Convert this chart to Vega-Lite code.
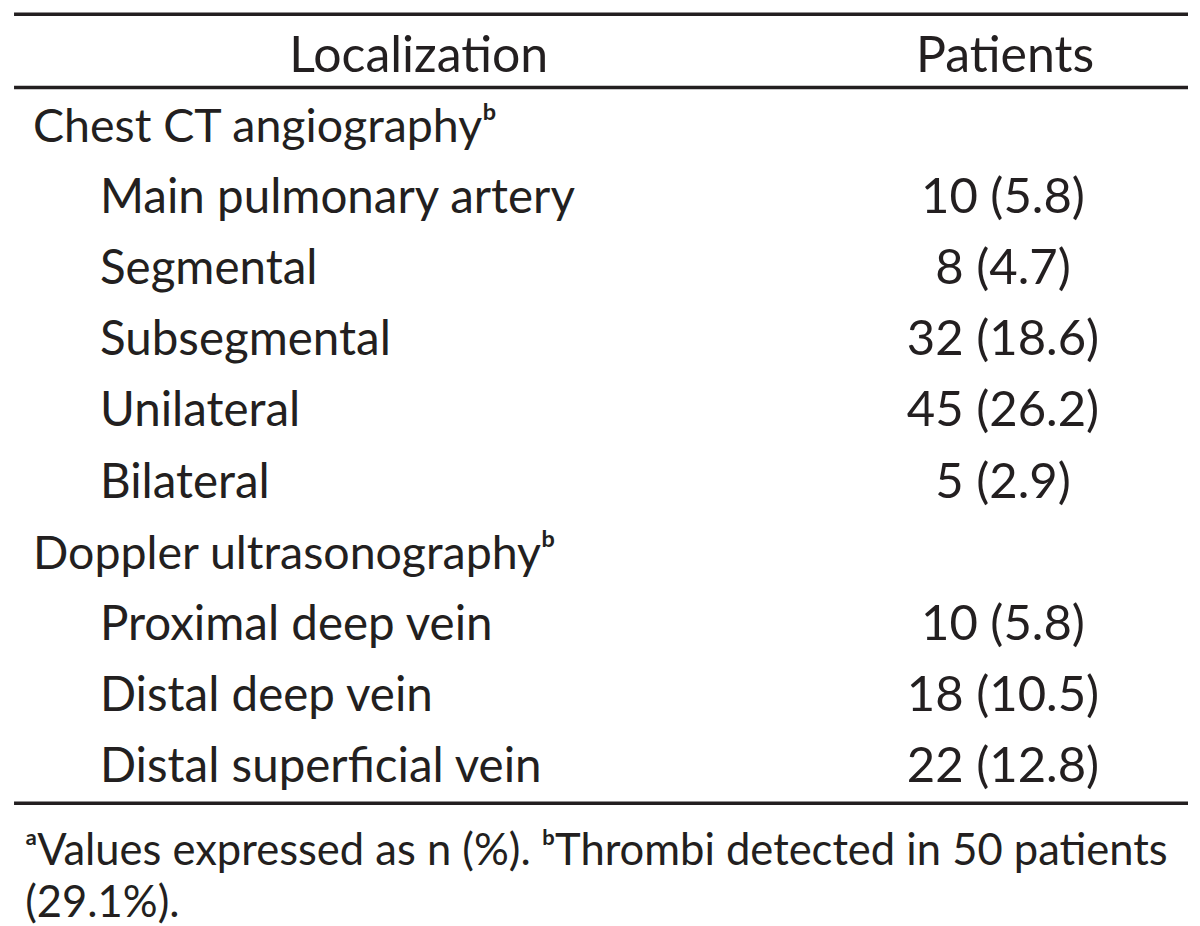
{
  "$schema": "https://vega.github.io/schema/vega-lite/v6.json",
  "width": 1200,
  "height": 926,
  "autosize": {"type": "fit", "contains": "padding"},
  "padding": 0,
  "background": "white",
  "config": {"view": {"stroke": null}},
  "datasets": {
    "rows": [
      {"row": 0, "level": 0, "label": "Chest CT angiographyᵇ", "patients": ""},
      {"row": 1, "level": 1, "label": "Main pulmonary artery", "patients": "10 (5.8)"},
      {"row": 2, "level": 1, "label": "Segmental", "patients": "8 (4.7)"},
      {"row": 3, "level": 1, "label": "Subsegmental", "patients": "32 (18.6)"},
      {"row": 4, "level": 1, "label": "Unilateral", "patients": "45 (26.2)"},
      {"row": 5, "level": 1, "label": "Bilateral", "patients": "5 (2.9)"},
      {"row": 6, "level": 0, "label": "Doppler ultrasonographyᵇ", "patients": ""},
      {"row": 7, "level": 1, "label": "Proximal deep vein", "patients": "10 (5.8)"},
      {"row": 8, "level": 1, "label": "Distal deep vein", "patients": "18 (10.5)"},
      {"row": 9, "level": 1, "label": "Distal superficial vein", "patients": "22 (12.8)"}
    ],
    "header": [
      {"row": -0.99, "col": 0.349, "text": "Localization"},
      {"row": -0.99, "col": 0.8375, "text": "Patients"}
    ],
    "footnote": [
      {"row": 10.17, "text": "ᵃValues expressed as n (%). ᵇThrombi detected in 50 patients"},
      {"row": 10.9, "text": "(29.1%)."}
    ],
    "rules": [
      {"pos": -1.8},
      {"pos": -0.77},
      {"pos": 9.3}
    ]
  },
  "layer": [
    {
      "data": {"name": "rules"},
      "mark": {"type": "rule", "strokeWidth": 3.5, "color": "#231f20"},
      "encoding": {
        "y": {"field": "pos", "type": "quantitative", "scale": {"domain": [-1.9306, 10.9306], "reverse": true}, "axis": null},
        "x": {"datum": 0.0117, "type": "quantitative", "scale": {"domain": [0, 1]}, "axis": null},
        "x2": {"datum": 0.99}
      }
    },
    {
      "data": {"name": "header"},
      "mark": {"type": "text", "align": "center", "baseline": "alphabetic", "font": "Lato", "fontSize": 50, "color": "#231f20"},
      "encoding": {
        "y": {"field": "row", "type": "quantitative", "axis": null},
        "x": {"field": "col", "type": "quantitative", "axis": null},
        "text": {"field": "text"}
      }
    },
    {
      "data": {"name": "rows"},
      "transform": [{"filter": "datum.level == 0"}],
      "mark": {"type": "text", "align": "left", "baseline": "alphabetic", "font": "Lato", "fontSize": 46.5, "color": "#231f20"},
      "encoding": {
        "y": {"field": "row", "type": "quantitative", "axis": null},
        "x": {"datum": 0.0275, "type": "quantitative", "axis": null},
        "text": {"field": "label"}
      }
    },
    {
      "data": {"name": "rows"},
      "transform": [{"filter": "datum.level == 1"}],
      "mark": {"type": "text", "align": "left", "baseline": "alphabetic", "font": "Lato", "fontSize": 47.5, "color": "#231f20"},
      "encoding": {
        "y": {"field": "row", "type": "quantitative", "axis": null},
        "x": {"datum": 0.0833, "type": "quantitative", "axis": null},
        "text": {"field": "label"}
      }
    },
    {
      "data": {"name": "rows"},
      "transform": [{"filter": "datum.level == 1"}],
      "mark": {"type": "text", "align": "center", "baseline": "alphabetic", "font": "Lato", "fontSize": 49, "color": "#231f20"},
      "encoding": {
        "y": {"field": "row", "type": "quantitative", "axis": null},
        "x": {"datum": 0.8358, "type": "quantitative", "axis": null},
        "text": {"field": "patients"}
      }
    },
    {
      "data": {"name": "footnote"},
      "mark": {"type": "text", "align": "left", "baseline": "alphabetic", "font": "Lato", "fontSize": 43.5, "color": "#231f20"},
      "encoding": {
        "y": {"field": "row", "type": "quantitative", "axis": null},
        "x": {"datum": 0.021, "type": "quantitative", "axis": null},
        "text": {"field": "text"}
      }
    }
  ]
}
